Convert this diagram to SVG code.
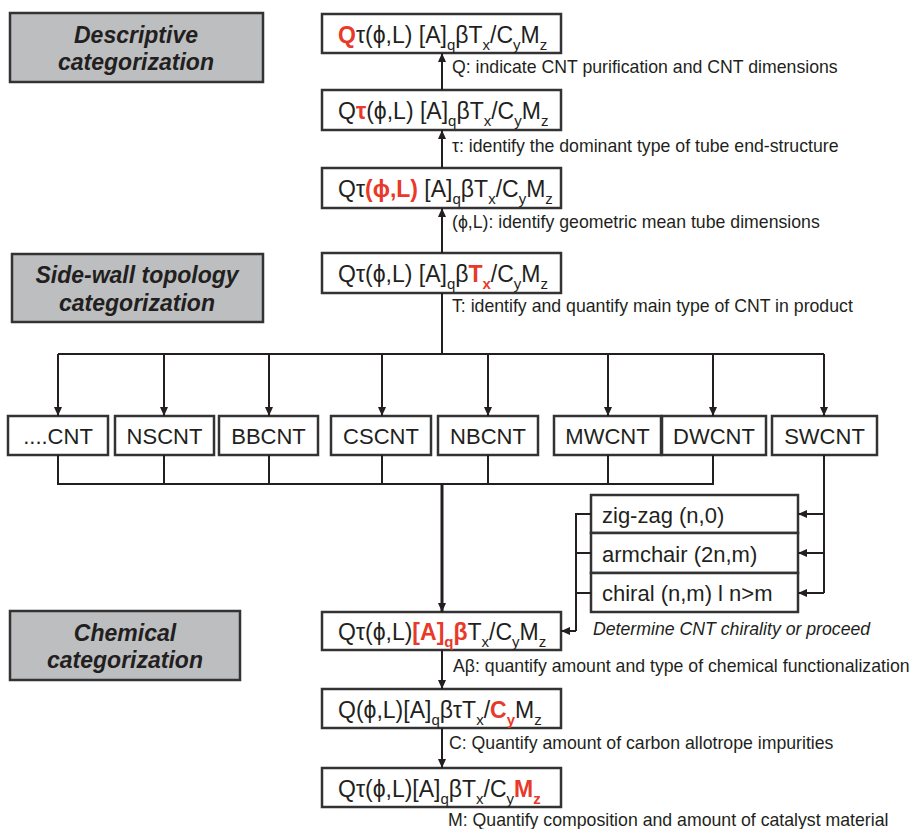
<svg xmlns="http://www.w3.org/2000/svg" width="911" height="829" viewBox="0 0 911 829">
<style>
.cat{fill:#bcbec0;stroke:#333;stroke-width:2.5}
.box{fill:#fff;stroke:#333;stroke-width:2.5}
.ct{font-family:"Liberation Sans",Arial,sans-serif;font-weight:bold;font-style:italic;font-size:23px;fill:#231f20;text-anchor:middle}
.f{font-family:"Liberation Sans",Arial,sans-serif;font-size:23px;fill:#231f20}
.r{fill:#e8392a;font-weight:bold}
.s{font-size:15px}
.lb{font-family:"Liberation Sans",Arial,sans-serif;font-size:17.7px;fill:#231f20}
.it{font-style:italic}
.cn{font-family:"Liberation Sans",Arial,sans-serif;font-size:22px;fill:#231f20;text-anchor:middle}
.ch{font-family:"Liberation Sans",Arial,sans-serif;font-size:22px;fill:#231f20}
.ln{fill:none;stroke:#231f20;stroke-width:2}
.ar{fill:none;stroke:#231f20;stroke-width:2;marker-end:url(#ah)}
</style>
<defs>
<marker id="ah" viewBox="0 0 9 8" refX="9" refY="4" markerWidth="9" markerHeight="8" markerUnits="userSpaceOnUse" orient="auto">
<path d="M0,0 L9,4 L0,8 z" fill="#231f20"/>
</marker>
</defs>

<g id="cat-descriptive">
<rect class="cat" x="10" y="13" width="253" height="69"/>
<text class="ct" x="136" y="43">Descriptive</text>
<text class="ct" x="136" y="70">categorization</text>
</g>
<g id="cat-sidewall">
<rect class="cat" x="12" y="254" width="251" height="68"/>
<text class="ct" x="137" y="283">Side-wall topology</text>
<text class="ct" x="137" y="311">categorization</text>
</g>
<g id="cat-chemical">
<rect class="cat" x="10" y="611" width="230" height="69"/>
<text class="ct" x="125" y="641">Chemical</text>
<text class="ct" x="125" y="668">categorization</text>
</g>

<g id="f1">
<rect class="box" x="322" y="14" width="239" height="39"/>
<text class="f" x="338" y="43"><tspan class="r">Q</tspan>τ(ϕ,L) [A]<tspan class="s" dy="7">q</tspan><tspan dy="-7">β</tspan>T<tspan class="s" dy="7">x</tspan><tspan dy="-7">/C</tspan><tspan class="s" dy="7">y</tspan><tspan dy="-7">M</tspan><tspan class="s" dy="7">z</tspan></text>
</g>
<g id="f2">
<rect class="box" x="322" y="90" width="239" height="40"/>
<text class="f" x="338" y="119">Q<tspan class="r">τ</tspan>(ϕ,L) [A]<tspan class="s" dy="7">q</tspan><tspan dy="-7">β</tspan>T<tspan class="s" dy="7">x</tspan><tspan dy="-7">/C</tspan><tspan class="s" dy="7">y</tspan><tspan dy="-7">M</tspan><tspan class="s" dy="7">z</tspan></text>
</g>
<g id="f3">
<rect class="box" x="322" y="168" width="239" height="40"/>
<text class="f" x="338" y="197">Qτ<tspan class="r">(ϕ,L)</tspan> [A]<tspan class="s" dy="7">q</tspan><tspan dy="-7">β</tspan>T<tspan class="s" dy="7">x</tspan><tspan dy="-7">/C</tspan><tspan class="s" dy="7">y</tspan><tspan dy="-7">M</tspan><tspan class="s" dy="7">z</tspan></text>
</g>
<g id="f4">
<rect class="box" x="322" y="253" width="239" height="40"/>
<text class="f" x="338" y="282">Qτ(ϕ,L) [A]<tspan class="s" dy="7">q</tspan><tspan dy="-7">β</tspan><tspan class="r">T</tspan><tspan class="s r" dy="7">x</tspan><tspan dy="-7">/C</tspan><tspan class="s" dy="7">y</tspan><tspan dy="-7">M</tspan><tspan class="s" dy="7">z</tspan></text>
</g>
<g id="f5">
<rect class="box" x="322" y="612" width="239" height="38"/>
<text class="f" x="338" y="640">Qτ(ϕ,L)<tspan class="r">[A]</tspan><tspan class="s r" dy="7">q</tspan><tspan class="r" dy="-7">β</tspan>T<tspan class="s" dy="7">x</tspan><tspan dy="-7">/C</tspan><tspan class="s" dy="7">y</tspan><tspan dy="-7">M</tspan><tspan class="s" dy="7">z</tspan></text>
</g>
<g id="f6">
<rect class="box" x="322" y="689" width="239" height="39"/>
<text class="f" x="338" y="718">Q(ϕ,L)[A]<tspan class="s" dy="7">q</tspan><tspan dy="-7">βτT</tspan><tspan class="s" dy="7">x</tspan><tspan dy="-7">/</tspan><tspan class="r">C</tspan><tspan class="s r" dy="7">y</tspan><tspan dy="-7">M</tspan><tspan class="s" dy="7">z</tspan></text>
</g>
<g id="f7">
<rect class="box" x="322" y="768" width="239" height="39"/>
<text class="f" x="338" y="797">Qτ(ϕ,L)[A]<tspan class="s" dy="7">q</tspan><tspan dy="-7">βT</tspan><tspan class="s" dy="7">x</tspan><tspan dy="-7">/C</tspan><tspan class="s" dy="7">y</tspan><tspan class="r" dy="-7">M</tspan><tspan class="s r" dy="7">z</tspan></text>
</g>

<g id="cnt-dots"><rect class="box" x="8" y="416" width="100" height="39"/><text class="cn" x="58" y="444">....CNT</text></g>
<g id="cnt-ns"><rect class="box" x="115" y="416" width="99" height="39"/><text class="cn" x="164.5" y="444">NSCNT</text></g>
<g id="cnt-bb"><rect class="box" x="219" y="416" width="99" height="39"/><text class="cn" x="268.5" y="444">BBCNT</text></g>
<g id="cnt-cs"><rect class="box" x="331" y="416" width="100" height="39"/><text class="cn" x="381" y="444">CSCNT</text></g>
<g id="cnt-nb"><rect class="box" x="438" y="416" width="100" height="39"/><text class="cn" x="488" y="444">NBCNT</text></g>
<g id="cnt-mw"><rect class="box" x="554" y="416" width="107" height="39"/><text class="cn" x="607.5" y="444">MWCNT</text></g>
<g id="cnt-dw"><rect class="box" x="662" y="416" width="104" height="39"/><text class="cn" x="714" y="444">DWCNT</text></g>
<g id="cnt-sw"><rect class="box" x="772" y="416" width="105" height="39"/><text class="cn" x="824.5" y="444">SWCNT</text></g>

<g id="chirality">
<rect class="box" x="591" y="495" width="207" height="38"/>
<text class="ch" x="602" y="523">zig-zag (n,0)</text>
<rect class="box" x="591" y="533" width="207" height="40"/>
<text class="ch" x="602" y="562">armchair (2n,m)</text>
<rect class="box" x="591" y="573" width="207" height="39"/>
<text class="ch" x="602" y="601">chiral (n,m) l n&gt;m</text>
</g>

<g id="labels">
<text class="lb" x="452" y="73">Q: indicate CNT purification and CNT dimensions</text>
<text class="lb" x="452" y="152">τ: identify the dominant type of tube end-structure</text>
<text class="lb" x="452" y="228">(ϕ,L): identify geometric mean tube dimensions</text>
<text class="lb" x="452" y="312">T: identify and quantify main type of CNT in product</text>
<text class="lb it" x="593" y="635">Determine CNT chirality or proceed</text>
<text class="lb" x="453" y="672">Aβ: quantify amount and type of chemical functionalization</text>
<text class="lb" x="449" y="749">C: Quantify amount of carbon allotrope impurities</text>
<text class="lb" x="448" y="826">M: Quantify composition and amount of catalyst material</text>
</g>

<g id="connectors">
<path class="ar" d="M442,90 V53"/>
<path class="ar" d="M442,168 V130"/>
<path class="ar" d="M442,253 V208"/>
<path class="ln" d="M442,293 V354 M58,354 H824"/>
<path class="ar" d="M58,354 V416"/>
<path class="ar" d="M164,354 V416"/>
<path class="ar" d="M269,354 V416"/>
<path class="ar" d="M382,354 V416"/>
<path class="ar" d="M488,354 V416"/>
<path class="ar" d="M608,354 V416"/>
<path class="ar" d="M713,354 V416"/>
<path class="ar" d="M824,354 V416"/>
<path class="ln" d="M58,455 V484 H713 V455 M164,455 V484 M269,455 V484 M382,455 V484 M488,455 V484 M608,455 V484"/>
<path class="ar" style="stroke-width:3" d="M442,484 V612"/>
<path class="ln" d="M824,455 V593"/>
<path class="ar" d="M824,514 H798"/>
<path class="ar" d="M824,553 H798"/>
<path class="ar" d="M824,593 H798"/>
<path class="ln" d="M591,514 H576 V631 M576,553 H591 M576,593 H591"/>
<path class="ar" d="M576,631 H561"/>
<path class="ar" d="M442,650 V689"/>
<path class="ar" d="M442,728 V768"/>
</g>
</svg>
